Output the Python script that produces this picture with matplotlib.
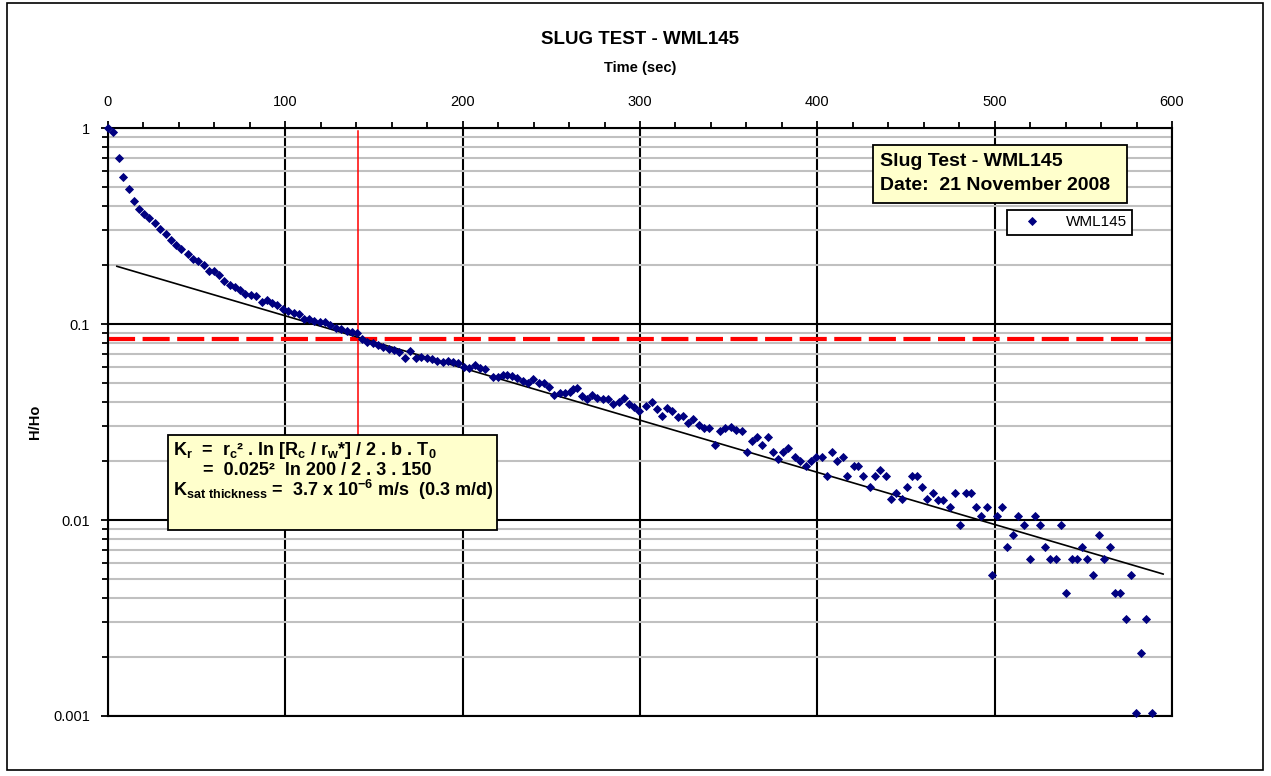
import matplotlib
matplotlib.use('Agg')
import matplotlib.pyplot as plt
from matplotlib.patches import Rectangle
from matplotlib.ticker import LogLocator, MultipleLocator, NullFormatter, FixedFormatter, FixedLocator

plt.rcParams['font.family'] = 'Liberation Sans'
plt.rcParams['mathtext.fontset'] = 'custom'
plt.rcParams['mathtext.rm'] = 'Liberation Sans:bold'
plt.rcParams['mathtext.it'] = 'Liberation Sans:bold'
plt.rcParams['mathtext.bf'] = 'Liberation Sans:bold'

# time (sec) and H/Ho
time_s = [0, 3, 6.2, 8.6, 11.8, 14.7, 17.7, 20.5, 23.4, 26.5, 29.5, 32.5, 35.5, 38.5, 41.1,
          45.1, 48.1, 50.9, 54, 56.8, 59.7, 62.6, 65.6, 68.6, 71.4, 74.4, 77.4, 80.4, 83.2,
          86.9, 89.4, 92.2, 95.4, 98.7, 101.7, 104.7, 107.5, 110.5, 113.5, 116.3, 119.5, 122.5,
          125.3, 128.6, 131.3, 134.5, 137.4, 140.2, 143.4, 146.3, 149.6, 152.5, 155.3, 158.7,
          161.5, 164.3, 167.5, 170.3, 173.7, 176.4, 179.7, 182.9, 185.7, 188.8, 191.6, 194.8,
          197.6, 200.8, 203.8, 207, 209.8, 212.6, 217, 219.8, 222.5, 225, 228, 230.9, 233.9,
          237.1, 239.9, 243.1, 245.9, 248.9, 251.7, 254.9, 257.8, 260.6, 262.4, 264.7, 267.2,
          270.3, 273.2, 276, 279, 282.2, 285, 288, 291, 294, 296.7, 299.7, 303.3, 306.6, 309.5,
          312.3, 315.1, 318.3, 321.3, 324.1, 327.3, 330.1, 333.3, 336.2, 339.1, 342.4, 345.2,
          348, 351.2, 354.2, 357.4, 360.2, 363, 366.2, 369, 371.9, 374.9, 378.1, 380.9, 383.7,
          387.5, 390.3, 393.5, 396.3, 399.2, 402.5, 405.3, 408.2, 411.3, 414.2, 417, 420.4,
          423.2, 426, 429.8, 432.6, 435.4, 438.6, 441.5, 444.3, 447.7, 450.5, 453.3, 456.1,
          459.3, 462.1, 465.1, 468, 471.1, 474.9, 477.7, 480.5, 483.7, 486.6, 489.6, 492.4,
          495.6, 498.4, 501.2, 504.4, 507.2, 510.3, 513.1, 516.8, 520, 522.8, 525.7, 528.5,
          531.3, 534.5, 537.5, 540.3, 543.5, 546.3, 549.4, 552.3, 555.2, 559, 561.8, 564.8,
          567.7, 570.8, 573.8, 576.6, 579.6, 582.4, 585.4, 588.6]
h_ho = [1.0, 0.95, 0.70, 0.565, 0.487, 0.426, 0.385, 0.363, 0.346, 0.326, 0.306, 0.289, 0.268,
        0.252, 0.241, 0.227, 0.215, 0.210, 0.200, 0.187, 0.186, 0.177, 0.166, 0.159, 0.154,
        0.149, 0.143, 0.141, 0.139, 0.130, 0.133, 0.128, 0.125, 0.119, 0.116, 0.114, 0.112,
        0.106, 0.106, 0.103, 0.102, 0.102, 0.0989, 0.0957, 0.094, 0.0918, 0.0907, 0.0897,
        0.0838, 0.0807, 0.0797, 0.078, 0.0766, 0.0745, 0.0737, 0.0717, 0.0669, 0.0728, 0.0669,
        0.0679, 0.0669, 0.0663, 0.0648, 0.0642, 0.0648, 0.0637, 0.063, 0.0606, 0.0599, 0.0618,
        0.0594, 0.0589, 0.0539, 0.0539, 0.055, 0.055, 0.0543, 0.0528, 0.0514, 0.0502, 0.0522,
        0.0498, 0.0498, 0.0475, 0.0434, 0.0443, 0.0443, 0.0451, 0.0465, 0.0473, 0.0429,
        0.0413, 0.0434, 0.0421, 0.0413, 0.0413, 0.0391, 0.0401, 0.0418, 0.0389, 0.0376,
        0.0361, 0.0382, 0.0401, 0.0369, 0.0339, 0.0371, 0.0361, 0.0337, 0.0339, 0.0314,
        0.0328, 0.0305, 0.0294, 0.0294, 0.0241, 0.0286, 0.0294, 0.0299, 0.0288, 0.0286,
        0.0221, 0.0253, 0.0266, 0.0241, 0.0266, 0.0221, 0.0204, 0.0221, 0.0232, 0.021,
        0.0201, 0.0189, 0.0201, 0.021, 0.021, 0.0168, 0.0221, 0.0201, 0.021, 0.0168, 0.0189,
        0.0189, 0.0168, 0.0148, 0.0168, 0.0179, 0.0168, 0.0128, 0.0137, 0.0128, 0.0148,
        0.0167, 0.0167, 0.0148, 0.0128, 0.0137, 0.0126, 0.0126, 0.0116, 0.0138, 0.0094,
        0.0138, 0.0138, 0.0116, 0.0105, 0.0116, 0.00524, 0.0105, 0.0116, 0.0073, 0.00838,
        0.0105, 0.0094, 0.0063, 0.0105, 0.0094, 0.0073, 0.0063, 0.0063, 0.0094, 0.00423,
        0.0063, 0.0063, 0.0073, 0.0063, 0.00524, 0.00838, 0.0063, 0.0073, 0.00423, 0.00423,
        0.00314, 0.00524, 0.00104, 0.00209, 0.00314, 0.00104]

# fitted straight line (end points) and the T0 markers
trend_t = [5, 595]
trend_y = [0.197, 0.0053]
t0 = 141
h0_ratio = 0.0838

x_ticks = [0, 100, 200, 300, 400, 500, 600]
y_ticks = [0.001, 0.01, 0.1, 1]
y_labels = ['0.001', '0.01', '0.1', '1']

W, H = 1271, 776
fig = plt.figure(figsize=(W / 100, H / 100), dpi=100)
ax = fig.add_axes([108 / W, 1 - 716 / H, 1064 / W, 588 / H])

ax.set_yscale('log')
ax.set_xlim(0, 600)
ax.set_ylim(0.001, 1)

# grid
ax.yaxis.set_minor_locator(LogLocator(base=10, subs=range(2, 10)))
ax.yaxis.set_minor_formatter(NullFormatter())
ax.yaxis.set_major_locator(FixedLocator(y_ticks))
ax.yaxis.set_major_formatter(FixedFormatter(y_labels))
ax.xaxis.set_major_locator(FixedLocator(x_ticks))
ax.xaxis.set_minor_locator(MultipleLocator(20))
ax.grid(which='minor', axis='y', color='#c0c0c0', lw=1.5, zorder=0)
ax.grid(which='major', axis='both', color='black', lw=1.5, zorder=0.5)
ax.set_axisbelow(True)

ax.xaxis.tick_top()
ax.xaxis.set_label_position('top')
ax.tick_params(axis='x', which='both', direction='out', labelsize=10.5, pad=9,
               top=True, bottom=False, width=1.3)
ax.tick_params(axis='x', which='major', length=5)
ax.tick_params(axis='x', which='minor', length=4)
ax.tick_params(axis='y', which='major', direction='out', length=5, width=1.3, labelsize=10.5, pad=8)
ax.tick_params(axis='y', which='minor', direction='out', length=4, width=1.3)
for s in ax.spines.values():
    s.set_linewidth(1.5)
    s.set_color('black')

ax.set_ylabel('H/Ho', fontsize=10.5, fontweight='bold')
ax.yaxis.set_label_coords(-0.062, 0.5)

# T0 markers
ax.axhline(h0_ratio, color='red', lw=3, dashes=(6.5, 1.8), zorder=2)
ax.plot([t0, t0], [0.96, 0.02], color='red', lw=1.1, zorder=2)

ax.plot(trend_t, trend_y, color='black', lw=1.2, zorder=3)
ax.plot(time_s, h_ho, ls='none', marker='D', ms=3.9, color='#000080', mec='#000080',
        mew=0.6, zorder=4, label='WML145', clip_on=False)

leg = ax.legend(loc='upper left', bbox_to_anchor=(1007 / W, 1 - 210 / H),
                bbox_transform=fig.transFigure, fontsize=11, frameon=True, fancybox=False,
                handlelength=2.6, handletextpad=0.9, borderpad=0.35, borderaxespad=0)
leg.get_frame().set_edgecolor('black')
leg.get_frame().set_linewidth(1.3)
leg.get_frame().set_alpha(1)

# titles
fig.text(640 / W, 1 - 40 / H, 'SLUG TEST - WML145', ha='center', va='center',
         fontsize=13.5, fontweight='bold')
fig.text(640 / W, 1 - 68 / H, 'Time (sec)', ha='center', va='center',
         fontsize=10.5, fontweight='bold')

# info box top right
fig.add_artist(Rectangle((873 / W, 1 - 203 / H), 254 / W, 58 / H, transform=fig.transFigure,
                         facecolor='#ffffcc', edgecolor='black', lw=1.3))
fig.text(880 / W, 1 - 161 / H, 'Slug Test - WML145', ha='left', va='center',
         fontsize=14, fontweight='bold')
fig.text(880 / W, 1 - 185 / H, 'Date:  21 November 2008', ha='left', va='center',
         fontsize=14, fontweight='bold')

# formula box
fig.add_artist(Rectangle((168 / W, 1 - 530 / H), 329 / W, 95 / H, transform=fig.transFigure,
                         facecolor='#ffffcc', edgecolor='black', lw=1.3))
fig.text(173 / W, 1 - 450 / H, r'K$_r$  =  r$_c$² . ln [R$_c$ / r$_w$*] / 2 . b . T$_0$',
         ha='left', va='center', fontsize=13, fontweight='bold')
fig.text(203 / W, 1 - 471 / H, '=  0.025²  ln 200 / 2 . 3 . 150',
         ha='left', va='center', fontsize=13, fontweight='bold')
fig.text(173 / W, 1 - 490 / H, r'K$_{sat\ thickness}$ =  3.7 x 10$^{-6}$ m/s  (0.3 m/d)',
         ha='left', va='center', fontsize=13, fontweight='bold')

# chart border
fig.add_artist(Rectangle((7 / W, 1 - 770 / H), 1256 / W, 767 / H, transform=fig.transFigure,
                         fill=False, edgecolor='black', lw=1.2))

fig.savefig('out.png', dpi=100)
